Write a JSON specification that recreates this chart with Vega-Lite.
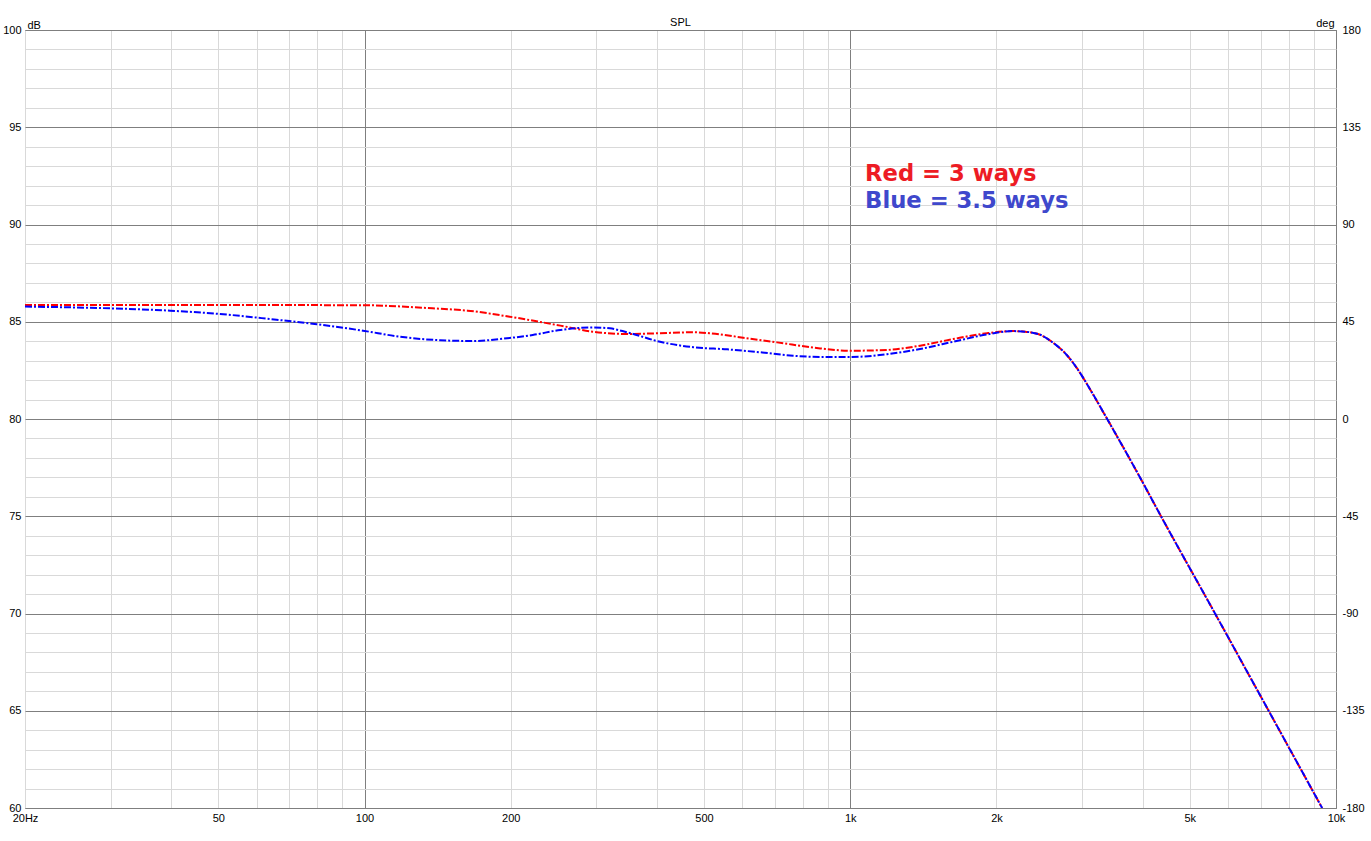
{
  "$schema": "https://vega.github.io/schema/vega-lite/v6.json",
  "autosize": {"type": "none"},
  "width": 1311,
  "height": 778,
  "padding": {"left": 25, "top": 30, "right": 35, "bottom": 33},
  "background": "#ffffff",
  "config": {
    "view": {"stroke": "#6e6e6e", "strokeWidth": 1},
    "font": "Liberation Sans",
    "axis": {"labelFont": "Liberation Sans", "labelFontSize": 11, "labelColor": "#000000", "titleFont": "Liberation Sans", "titleFontSize": 11, "titleFontWeight": "normal", "titleColor": "#000000", "ticks": false, "domain": false}
  },
  "title": {"text": "SPL", "fontSize": 11, "fontWeight": "normal", "font": "Liberation Sans", "color": "#000000", "anchor": "middle", "frame": "group", "offset": 3, "dy": 14},
  "datasets": {
    "curves": [
      {"f": 20, "db": 85.86, "s": "3 ways"},
      {"f": 50, "db": 85.86, "s": "3 ways"},
      {"f": 99, "db": 85.85, "s": "3 ways"},
      {"f": 138, "db": 85.69, "s": "3 ways"},
      {"f": 163, "db": 85.57, "s": "3 ways"},
      {"f": 199, "db": 85.26, "s": "3 ways"},
      {"f": 253, "db": 84.8, "s": "3 ways"},
      {"f": 295, "db": 84.49, "s": "3 ways"},
      {"f": 347, "db": 84.37, "s": "3 ways"},
      {"f": 406, "db": 84.41, "s": "3 ways"},
      {"f": 475, "db": 84.46, "s": "3 ways"},
      {"f": 514, "db": 84.41, "s": "3 ways"},
      {"f": 602, "db": 84.18, "s": "3 ways"},
      {"f": 707, "db": 83.94, "s": "3 ways"},
      {"f": 867, "db": 83.63, "s": "3 ways"},
      {"f": 999, "db": 83.51, "s": "3 ways"},
      {"f": 1191, "db": 83.55, "s": "3 ways"},
      {"f": 1392, "db": 83.77, "s": "3 ways"},
      {"f": 1628, "db": 84.11, "s": "3 ways"},
      {"f": 1913, "db": 84.41, "s": "3 ways"},
      {"f": 2164, "db": 84.52, "s": "3 ways"},
      {"f": 2290, "db": 84.49, "s": "3 ways"},
      {"f": 2460, "db": 84.33, "s": "3 ways"},
      {"f": 2616, "db": 83.92, "s": "3 ways"},
      {"f": 2768, "db": 83.39, "s": "3 ways"},
      {"f": 2931, "db": 82.6, "s": "3 ways"},
      {"f": 3118, "db": 81.52, "s": "3 ways"},
      {"f": 3380, "db": 80.0, "s": "3 ways"},
      {"f": 3952, "db": 76.98, "s": "3 ways"},
      {"f": 4345, "db": 75.08, "s": "3 ways"},
      {"f": 5636, "db": 70.0, "s": "3 ways"},
      {"f": 7248, "db": 65.05, "s": "3 ways"},
      {"f": 9364, "db": 60.0, "s": "3 ways"},
      {"f": 20, "db": 85.78, "s": "3.5 ways"},
      {"f": 29.9, "db": 85.69, "s": "3.5 ways"},
      {"f": 39.8, "db": 85.57, "s": "3.5 ways"},
      {"f": 50.4, "db": 85.4, "s": "3.5 ways"},
      {"f": 63.9, "db": 85.14, "s": "3.5 ways"},
      {"f": 79.8, "db": 84.87, "s": "3.5 ways"},
      {"f": 99.3, "db": 84.54, "s": "3.5 ways"},
      {"f": 118.3, "db": 84.23, "s": "3.5 ways"},
      {"f": 143, "db": 84.05, "s": "3.5 ways"},
      {"f": 167, "db": 84.01, "s": "3.5 ways"},
      {"f": 196.5, "db": 84.15, "s": "3.5 ways"},
      {"f": 222, "db": 84.32, "s": "3.5 ways"},
      {"f": 253, "db": 84.58, "s": "3.5 ways"},
      {"f": 295, "db": 84.71, "s": "3.5 ways"},
      {"f": 320, "db": 84.66, "s": "3.5 ways"},
      {"f": 347, "db": 84.46, "s": "3.5 ways"},
      {"f": 406, "db": 83.97, "s": "3.5 ways"},
      {"f": 475, "db": 83.69, "s": "3.5 ways"},
      {"f": 558, "db": 83.58, "s": "3.5 ways"},
      {"f": 652, "db": 83.43, "s": "3.5 ways"},
      {"f": 763, "db": 83.25, "s": "3.5 ways"},
      {"f": 867, "db": 83.19, "s": "3.5 ways"},
      {"f": 999, "db": 83.19, "s": "3.5 ways"},
      {"f": 1191, "db": 83.33, "s": "3.5 ways"},
      {"f": 1392, "db": 83.6, "s": "3.5 ways"},
      {"f": 1628, "db": 83.97, "s": "3.5 ways"},
      {"f": 1913, "db": 84.35, "s": "3.5 ways"},
      {"f": 2164, "db": 84.52, "s": "3.5 ways"},
      {"f": 2290, "db": 84.49, "s": "3.5 ways"},
      {"f": 2460, "db": 84.33, "s": "3.5 ways"},
      {"f": 2616, "db": 83.92, "s": "3.5 ways"},
      {"f": 2768, "db": 83.39, "s": "3.5 ways"},
      {"f": 2931, "db": 82.6, "s": "3.5 ways"},
      {"f": 3118, "db": 81.52, "s": "3.5 ways"},
      {"f": 3380, "db": 80.0, "s": "3.5 ways"},
      {"f": 3952, "db": 76.98, "s": "3.5 ways"},
      {"f": 4345, "db": 75.08, "s": "3.5 ways"},
      {"f": 5636, "db": 70.0, "s": "3.5 ways"},
      {"f": 7248, "db": 65.05, "s": "3.5 ways"},
      {"f": 9364, "db": 60.0, "s": "3.5 ways"}
    ],
    "notes": [
      {"f": 1073, "db": 92.25, "label": "Red = 3 ways", "c": "red"},
      {"f": 1073, "db": 90.83, "label": "Blue = 3.5 ways", "c": "blue"}
    ],
    "deg": [{"deg": -180}, {"deg": 180}]
  },
  "layer": [
    {
      "encoding": {
        "x": {
          "field": "f", "type": "quantitative",
          "scale": {"type": "log", "domain": [20, 10000], "nice": false},
          "axis": {
            "title": null,
            "values": [20, 30, 40, 50, 60, 70, 80, 90, 100, 200, 300, 400, 500, 600, 700, 800, 900, 1000, 2000, 3000, 4000, 5000, 6000, 7000, 8000, 9000, 10000],
            "grid": true,
            "gridColor": {"condition": {"test": "datum.value == 100 || datum.value == 1000 || datum.value == 10000", "value": "#7f7f7f"}, "value": "#d9d9d9"},
            "gridWidth": 1,
            "labelPadding": 4,
            "labelOverlap": false,
            "labelFlush": false,
            "labelExpr": "datum.value == 20 ? '20Hz' : datum.value == 50 ? '50' : datum.value == 100 ? '100' : datum.value == 200 ? '200' : datum.value == 500 ? '500' : datum.value == 1000 ? '1k' : datum.value == 2000 ? '2k' : datum.value == 5000 ? '5k' : datum.value == 10000 ? '10k' : ''"
          }
        },
        "y": {
          "field": "db", "type": "quantitative",
          "scale": {"domain": [60, 100], "nice": false, "zero": false},
          "axis": {
            "title": "dB",
            "titleAngle": 0,
            "titleAlign": "left",
            "titleBaseline": "alphabetic",
            "titleX": 2,
            "titleY": -2,
            "values": [60, 61, 62, 63, 64, 65, 66, 67, 68, 69, 70, 71, 72, 73, 74, 75, 76, 77, 78, 79, 80, 81, 82, 83, 84, 85, 86, 87, 88, 89, 90, 91, 92, 93, 94, 95, 96, 97, 98, 99, 100],
            "grid": true,
            "gridColor": {"condition": {"test": "datum.value % 5 == 0", "value": "#7f7f7f"}, "value": "#d9d9d9"},
            "labelPadding": 4,
            "labelOverlap": false,
            "labelFlush": false,
            "labelExpr": "datum.value % 5 == 0 ? toString(datum.value) : ''"
          }
        }
      },
      "layer": [
        {
          "data": {"name": "curves"},
          "mark": {"type": "line", "strokeWidth": 2, "strokeDash": [7, 2, 2, 2], "interpolate": "monotone", "clip": true},
          "encoding": {
            "color": {
              "field": "s", "type": "nominal",
              "scale": {"domain": ["3 ways", "3.5 ways"], "range": ["#ff0000", "#0000ff"]},
              "legend": null
            }
          }
        },
        {
          "data": {"name": "notes"},
          "mark": {"type": "text", "font": "DejaVu Sans", "fontWeight": "bold", "fontSize": 22.7, "align": "left", "baseline": "alphabetic"},
          "encoding": {
            "text": {"field": "label"},
            "color": {
              "field": "c", "type": "nominal",
              "scale": {"domain": ["red", "blue"], "range": ["#ed1c24", "#3f48cc"]},
              "legend": null
            }
          }
        }
      ],
      "resolve": {"scale": {"color": "independent"}}
    },
    {
      "data": {"name": "deg"},
      "mark": {"type": "point", "opacity": 0},
      "encoding": {
        "y": {
          "field": "deg", "type": "quantitative",
          "scale": {"domain": [-180, 180], "nice": false, "zero": false},
          "axis": {
            "orient": "right",
            "title": "deg",
            "titleAngle": 0,
            "titleAlign": "right",
            "titleBaseline": "alphabetic",
            "titleX": -2,
            "titleY": -4,
            "values": [-180, -135, -90, -45, 0, 45, 90, 135, 180],
            "grid": false,
            "labelPadding": 6,
            "labelOverlap": false,
            "labelFlush": false,
            "labelExpr": "toString(datum.value)"
          }
        }
      }
    }
  ],
  "resolve": {"scale": {"y": "independent"}, "axis": {"y": "independent"}}
}
